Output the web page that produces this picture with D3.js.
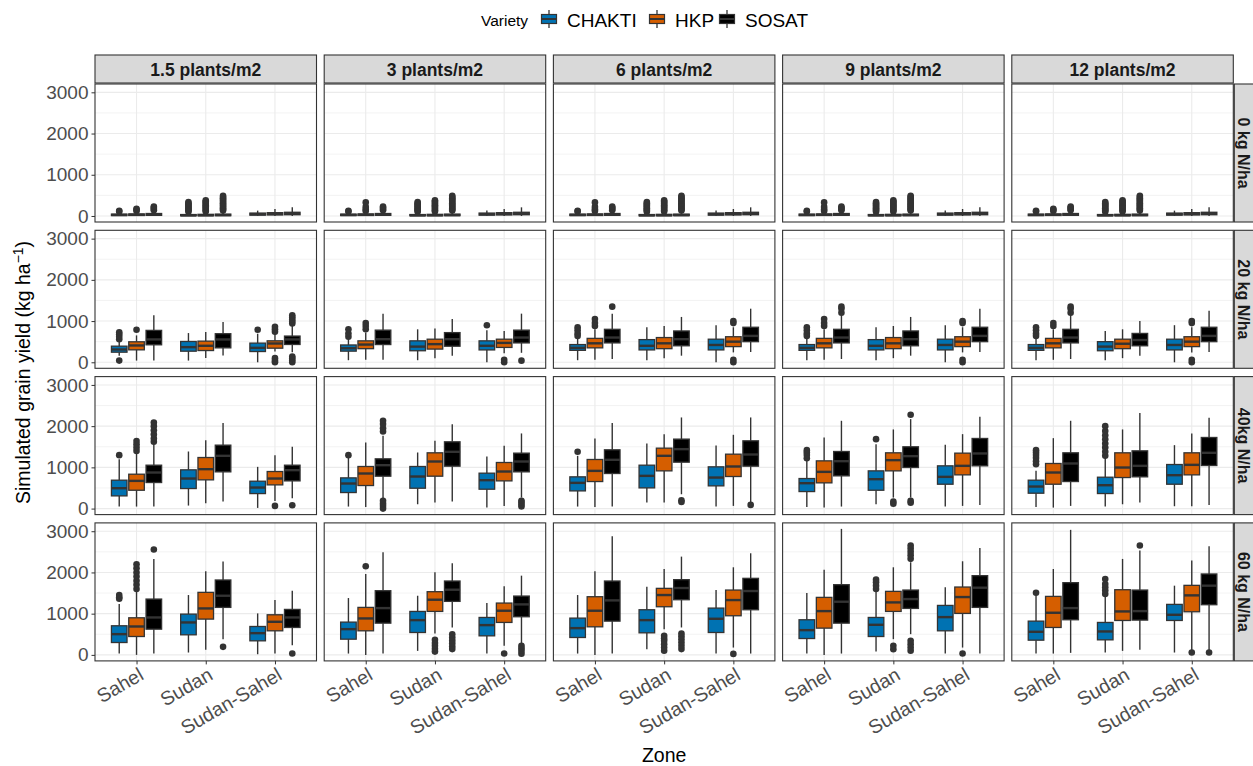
<!DOCTYPE html>
<html><head><meta charset="utf-8">
<script src="https://cdn.jsdelivr.net/npm/d3@7"></script>
<style>body{margin:0;background:#fff;} text{font-family:"Liberation Sans",Arial,sans-serif;}</style>
</head><body><svg id="c" width="1253" height="766"></svg>
<script>
const densities = ["1.5 plants/m2","3 plants/m2","6 plants/m2","9 plants/m2","12 plants/m2"];
const nLevels = ["0 kg N/ha","20 kg N/ha","40kg N/ha","60 kg N/ha"];
const zones = ["Sahel","Sudan","Sudan-Sahel"];
const varieties = ["CHAKTI","HKP","SOSAT"];
const varietyColors = ["#0072B2","#D55E00","#000000"];
const yTicks = [0,1000,2000,3000];
const yMinor = [500,1500,2500];

// each box: [lowWhisker, q1, median, q3, highWhisker, outliers]
// order in each density block: Sahel (CHAKTI,HKP,SOSAT), Sudan (...), Sudan-Sahel (...)
const n0 = [
 [[0,10,25,45,95,[110,125]],[0,12,28,50,100,[120,150,175]],[0,15,35,60,120,[140,170,200,230]],
  [0,5,15,35,85,[100,130,160,190,220,250,280,310,340]],[0,5,18,40,95,[110,140,170,200,230,260,290,320,350,380]],[0,8,22,45,110,[130,160,190,220,250,280,310,340,370,400,430,460,490]],
  [0,20,45,70,130,[]],[0,25,50,80,170,[]],[0,30,55,90,210,[]]],
 [[0,10,25,45,95,[110,125]],[0,12,28,50,100,[120,160,220,330]],[0,15,35,60,120,[140,170,200,230]],
  [0,5,15,35,85,[100,130,160,190,220,250,280,310,340]],[0,5,18,40,95,[110,140,170,200,230,260,290,320,350,380]],[0,8,22,45,110,[130,160,190,220,250,280,310,340,370,400,430,460,490]],
  [0,20,45,70,130,[]],[0,25,50,80,170,[]],[0,30,55,90,210,[]]],
 [[0,10,25,45,95,[110,125]],[0,12,28,50,100,[120,160,220,330]],[0,15,35,60,120,[140,170,200,230]],
  [0,5,15,35,85,[100,130,160,190,220,250,280,310,340]],[0,5,18,40,95,[110,140,170,200,230,260,290,320,350,380]],[0,8,22,45,110,[130,160,190,220,250,280,310,340,370,400,430,460,490]],
  [0,20,45,70,130,[]],[0,25,50,80,170,[]],[0,30,55,90,210,[]]],
 [[0,10,25,45,95,[110,125]],[0,12,28,50,100,[120,160,220,330]],[0,15,35,60,120,[140,170,200,230]],
  [0,5,15,35,85,[100,130,160,190,220,250,280,310,340]],[0,5,18,40,95,[110,140,170,200,230,260,290,320,350,380]],[0,8,22,45,110,[130,160,190,220,250,280,310,340,370,400,430,460,490]],
  [0,20,45,70,130,[]],[0,25,50,80,170,[]],[0,30,55,90,210,[]]],
 [[0,10,25,45,95,[110,125]],[0,12,28,50,100,[120,150,175]],[0,15,35,60,120,[140,170,200,230]],
  [0,5,15,35,85,[100,130,160,190,220,250,280,310,340]],[0,5,18,40,95,[110,140,170,200,230,260,290,320,350,380]],[0,8,22,45,110,[130,160,190,220,250,280,310,340,370,400,430,460,490]],
  [0,20,45,70,130,[]],[0,25,50,80,170,[]],[0,30,55,90,210,[]]]
];
const n20 = [
 [[160,245,310,391,505,[41,560,620,680,730]],[41,302,408,497,652,[790]],[41,424,554,774,1141,[]],
  [41,269,367,505,709,[]],[106,285,400,513,733,[]],[163,350,554,693,978,[]],
  [0,261,350,465,693,[790]],[261,342,456,521,693,[740,800,860,0,40,100]],[245,432,554,636,896,[940,990,1040,1090,1140,0,50,100,140]]],
 [[50,270,340,420,560,[620,700,800]],[60,330,430,520,720,[800,880,950]],[60,430,560,780,1180,[]],
  [50,280,380,520,800,[]],[100,320,440,560,820,[]],[160,390,560,720,1050,[]],
  [0,300,400,520,780,[900]],[220,360,470,560,760,[0,60]],[230,470,600,780,1180,[40]]],
 [[50,290,350,430,580,[640,700,780,850]],[60,350,460,580,800,[880,950,1050]],[80,470,600,800,1180,[1350]],
  [50,300,400,550,850,[]],[100,330,460,600,880,[]],[160,400,560,760,1100,[]],
  [0,300,420,560,900,[]],[240,380,500,620,850,[950,1000,0,60]],[250,500,640,850,1300,[]]],
 [[50,290,350,430,580,[640,700,780,850]],[60,350,460,580,800,[880,950,1050]],[80,470,600,800,1180,[1200,1300,1350]],
  [50,300,400,550,850,[]],[100,330,460,600,880,[]],[160,400,560,760,1100,[]],
  [0,300,420,560,900,[]],[240,380,500,620,850,[950,1000,0,60]],[250,500,640,850,1300,[]]],
 [[50,290,350,430,580,[640,700,780,850]],[60,350,460,580,800,[880,950]],[80,470,600,800,1180,[1200,1300,1350]],
  [50,280,380,500,760,[]],[100,330,450,560,800,[]],[160,400,540,700,1000,[]],
  [0,300,420,560,900,[]],[240,380,500,620,850,[950,1000,0,60]],[250,500,640,850,1250,[]]]
];
const n40 = [
 [[49,308,494,689,1199,[1296]],[49,445,672,834,1330,[1400,1480,1560,1640]],[49,632,875,1053,1563,[1620,1700,1800,1900,2000,2090]],
  [73,486,729,940,1385,[]],[130,697,956,1239,1660,[]],[170,891,1280,1539,2074,[]],
  [16,364,510,664,1012,[]],[186,575,729,899,1296,[65]],[251,672,932,1053,1499,[81]]],
 [[49,389,608,745,1240,[1296]],[41,559,851,1021,1604,[]],[227,786,1053,1207,1766,[1870,1950,2050,2130,0,60,120,190]],
  [105,494,778,1021,1361,[]],[146,786,1142,1353,1644,[]],[170,1029,1377,1620,2049,[]],
  [24,470,689,859,1264,[]],[65,672,899,1118,1523,[]],[267,891,1142,1345,1823,[50,100,150,190]]],
 [[49,429,624,770,1280,[1377]],[41,656,915,1191,1701,[]],[49,851,1183,1426,2074,[]],
  [146,502,794,1053,1580,[]],[146,915,1280,1466,1806,[]],[348,1126,1442,1685,2211,[160,202]],
  [49,551,753,1013,1531,[]],[65,778,1021,1320,1790,[]],[146,1029,1312,1644,2211,[89]]],
 [[41,413,616,729,1175,[1220,1300,1360,1418]],[24,624,891,1158,1725,[]],[49,794,1150,1385,2130,[]],
  [105,445,713,915,1563,[1685]],[267,915,1175,1353,1920,[120,170]],[267,996,1272,1499,2171,[2276,140,186]],
  [49,591,770,1037,1547,[]],[65,818,1037,1345,1806,[]],[89,1037,1337,1701,2228,[]]],
 [[41,373,535,689,915,[1077,1150,1230,1300,1360,1418]],[24,591,875,1094,1709,[]],[65,656,1094,1353,2130,[]],
  [49,365,567,761,1240,[1280,1380,1480,1580,1680,1780,1880,2000]],[105,753,996,1353,1920,[]],[146,770,1037,1401,2317,[]],
  [57,591,810,1069,1539,[]],[57,818,1061,1353,1823,[]],[89,1045,1353,1725,2203,[]]]
];
const n60 = [
 [[32,300,503,706,1233,[1360,1400,1450]],[0,446,689,900,1533,[1600,1700,1800,1900,2000,2100,2200]],[32,624,908,1354,2327,[2555]],
  [57,487,787,989,1452,[]],[122,868,1127,1517,2028,[]],[381,1152,1435,1817,2263,[195]],
  [16,341,527,689,1006,[]],[32,584,803,973,1330,[]],[235,665,908,1103,1557,[32]]],
 [[32,381,624,795,1379,[]],[0,584,884,1152,1963,[2149]],[32,770,1135,1557,2490,[]],
  [97,543,843,1054,1435,[]],[519,1054,1338,1533,2003,[80,150,220,290,365]],[665,1298,1581,1792,2222,[140,210,280,350,420,500]],
  [32,462,722,908,1257,[]],[219,787,1071,1257,1663,[32]],[284,925,1225,1427,1922,[30,100,160,219]]],
 [[32,422,649,892,1452,[]],[0,681,1071,1411,2028,[]],[32,819,1322,1792,2879,[]],
  [138,535,843,1095,1654,[]],[624,1168,1452,1614,2084,[100,180,260,340,400,462]],[665,1338,1622,1825,2384,[140,220,300,380,450,519]],
  [32,543,876,1135,1573,[]],[178,949,1330,1573,2125,[24]],[32,1095,1549,1857,2465,[]]],
 [[32,397,600,852,1500,[]],[0,649,1062,1395,2068,[]],[32,770,1290,1703,3057,[]],
  [81,446,730,908,1557,[1600,1680,1760,1825]],[381,1054,1273,1541,2125,[138,219]],[503,1127,1354,1573,2246,[2330,2420,2500,2580,2652,100,180,260,340]],
  [32,584,916,1200,1638,[]],[178,1006,1403,1646,2271,[32]],[32,1152,1630,1922,2595,[]]],
 [[32,357,560,819,1444,[1508]],[32,665,1022,1419,2084,[]],[49,852,1135,1752,3033,[]],
  [57,365,568,787,1435,[1476,1560,1640,1720,1841]],[97,835,1054,1581,2328,[]],[122,844,1062,1573,2530,[2652]],
  [57,835,973,1225,1679,[]],[97,1046,1444,1687,2287,[57]],[97,1217,1679,1963,2636,[57]]]
];
const allRows = [n0, n20, n40, n60];

const svg = d3.select("#c");
const panelLeft0 = 95, colPitch = 229.2, panelW = 221.5;
const panelTop0 = 84, rowPitch = 146.3, panelH = 138;
const grey20 = "#333333";
const FONT = "'Liberation Sans',Arial,sans-serif";

allRows.forEach((rowData, r) => {
  const top = panelTop0 + r*rowPitch;
  const y = d3.scaleLinear().domain([-146, 3202]).range([top+panelH, top]);
  densities.forEach((dens, c) => {
    const left = panelLeft0 + c*colPitch;
    const x = d3.scalePoint().domain(zones).range([left, left+panelW]).padding(0.6);
    const step = x.step();
    const off = d3.scalePoint().domain(varieties).range([-0.25*step, 0.25*step]);
    const bw = 0.225*step;
    const g = svg.append("g");
    g.append("rect").attr("x",left).attr("y",top).attr("width",panelW).attr("height",panelH).attr("fill","#fff");
    g.selectAll(".mn").data(yMinor).join("line").attr("x1",left).attr("x2",left+panelW)
      .attr("y1",d=>y(d)).attr("y2",d=>y(d)).attr("stroke","#ebebeb").attr("stroke-width",0.6);
    g.selectAll(".mj").data(yTicks).join("line").attr("x1",left).attr("x2",left+panelW)
      .attr("y1",d=>y(d)).attr("y2",d=>y(d)).attr("stroke","#ebebeb").attr("stroke-width",1.1);
    g.selectAll(".mx").data(zones).join("line").attr("y1",top).attr("y2",top+panelH)
      .attr("x1",d=>x(d)).attr("x2",d=>x(d)).attr("stroke","#ebebeb").attr("stroke-width",1.1);
    const boxes = rowData[c];
    boxes.forEach((b, i) => {
      const z = zones[Math.floor(i/3)], v = varieties[i%3];
      const cx = x(z) + off(v);
      const [lo,q1,md,q3,hi,outs] = b;
      g.append("line").attr("x1",cx).attr("x2",cx).attr("y1",y(q3)).attr("y2",y(hi)).attr("stroke",grey20).attr("stroke-width",1.4);
      g.append("line").attr("x1",cx).attr("x2",cx).attr("y1",y(q1)).attr("y2",y(lo)).attr("stroke",grey20).attr("stroke-width",1.4);
      g.append("rect").attr("x",cx-bw/2).attr("width",bw).attr("y",y(q3)).attr("height",Math.max(0.5,y(q1)-y(q3)))
        .attr("fill",varietyColors[i%3]).attr("stroke",grey20).attr("stroke-width",1.3);
      g.append("line").attr("x1",cx-bw/2).attr("x2",cx+bw/2).attr("y1",y(md)).attr("y2",y(md)).attr("stroke",grey20).attr("stroke-width",2.4);
      g.selectAll(null).data(outs).join("circle").attr("cx",cx).attr("cy",d=>y(d)).attr("r",3.3).attr("fill",grey20);
    });
    g.append("rect").attr("x",left).attr("y",top).attr("width",panelW).attr("height",panelH).attr("fill","none").attr("stroke",grey20).attr("stroke-width",1.1);
    if (c === 0) {
      const ax = svg.append("g").attr("transform",`translate(${left},0)`)
        .call(d3.axisLeft(y).tickValues(yTicks).tickFormat(d3.format("d")).tickSize(3.5).tickPadding(3));
      ax.select(".domain").remove();
      ax.selectAll("line").attr("stroke",grey20);
      ax.selectAll("text").attr("fill","#4d4d4d").style("font-size","19px").style("font-family",FONT);
    }
    if (r === allRows.length-1) {
      const ax = svg.append("g").attr("transform",`translate(0,${top+panelH})`).call(d3.axisBottom(x).tickSize(3.5).tickPadding(2));
      ax.select(".domain").remove();
      ax.selectAll("line").attr("stroke",grey20);
      ax.selectAll("text").attr("fill","#4d4d4d").style("font-size","19.5px").style("font-family",FONT)
        .attr("text-anchor","end").attr("dy","0.72em").attr("transform","translate(0,6) rotate(-30)").attr("y",0).attr("x",1);
    }
    if (r === 0) {
      svg.append("rect").attr("x",left).attr("y",55).attr("width",panelW).attr("height",top-55-1).attr("fill","#d9d9d9").attr("stroke",grey20).attr("stroke-width",1.1);
      svg.append("text").attr("x",left+panelW/2).attr("y",75.5).attr("text-anchor","middle")
        .style("font-size","17.5px").style("font-weight","bold").attr("fill","#1a1a1a").text(dens);
    }
    if (c === densities.length-1) {
      const sx = left+panelW+1;
      svg.append("rect").attr("x",sx).attr("y",top).attr("width",28).attr("height",panelH).attr("fill","#d9d9d9").attr("stroke",grey20).attr("stroke-width",1.1);
      svg.append("text").attr("transform",`translate(${sx+4},${top+panelH/2}) rotate(90)`).attr("text-anchor","middle")
        .style("font-size","16px").style("font-weight","bold").attr("fill","#1a1a1a").text(nLevels[r]);
    }
  });
});

svg.append("text").attr("x", (panelLeft0 + panelLeft0+4*colPitch+panelW)/2).attr("y",762).attr("text-anchor","middle")
  .style("font-size","19.5px").attr("fill","#000").text("Zone");
const yt = svg.append("text").attr("transform",`translate(30,${(panelTop0+panelTop0+3*rowPitch+panelH)/2}) rotate(-90)`).attr("text-anchor","middle")
  .style("font-size","19.5px").attr("fill","#000");
yt.append("tspan").text("Simulated grain yield (kg ha");
yt.append("tspan").attr("dy","-7").style("font-size","14px").text("−1");
yt.append("tspan").attr("dy","7").text(")");

const lg = svg.append("g");
lg.append("text").attr("x",481).attr("y",26).style("font-size","15.5px").attr("fill","#000").text("Variety");
const keyX = [540, 648, 718];
varieties.forEach((v,i)=>{
  const kx = keyX[i], ky = 10, ks = 18;
  lg.append("line").attr("x1",kx+ks/2).attr("x2",kx+ks/2).attr("y1",ky).attr("y2",ky+ks).attr("stroke",grey20).attr("stroke-width",1.3);
  lg.append("rect").attr("x",kx+1.5).attr("y",ky+4.5).attr("width",ks-3).attr("height",ks-9).attr("fill",varietyColors[i]).attr("stroke",grey20).attr("stroke-width",1.2);
  lg.append("line").attr("x1",kx+1.5).attr("x2",kx+ks-1.5).attr("y1",ky+ks/2).attr("y2",ky+ks/2).attr("stroke",grey20).attr("stroke-width",2);
  lg.append("text").attr("x",kx+27).attr("y",27).style("font-size","19px").attr("fill","#000").text(v);
});
</script></body></html>
